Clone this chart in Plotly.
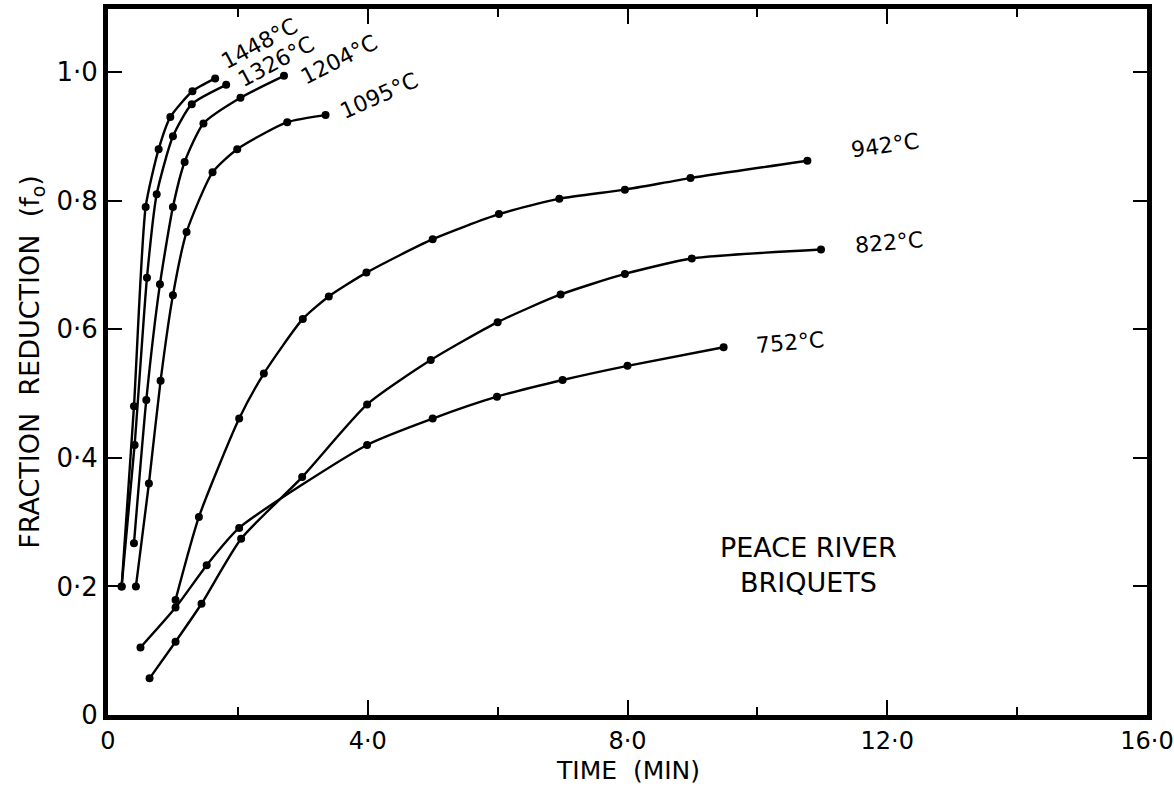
import plotly.graph_objects as go

# ---- data (time in min, fraction reduction) ----
t_1448 = [0.21, 0.40, 0.58, 0.78, 0.96, 1.30, 1.65]
f_1448 = [0.20, 0.48, 0.79, 0.88, 0.93, 0.97, 0.99]
t_1326 = [0.21, 0.41, 0.60, 0.75, 1.00, 1.29, 1.82]
f_1326 = [0.20, 0.42, 0.68, 0.81, 0.90, 0.95, 0.98]
t_1204 = [0.40, 0.59, 0.80, 1.00, 1.18, 1.47, 2.04, 2.71]
f_1204 = [0.267, 0.49, 0.67, 0.79, 0.86, 0.92, 0.96, 0.994]
t_1095 = [0.43, 0.63, 0.81, 1.00, 1.21, 1.61, 1.99, 2.76, 3.35]
f_1095 = [0.20, 0.36, 0.52, 0.653, 0.751, 0.844, 0.88, 0.922, 0.933]
t_942 = [1.04, 1.40, 2.02, 2.40, 3.00, 3.40, 3.98, 5.00, 6.02, 6.95, 7.96, 8.97, 10.77]
f_942 = [0.179, 0.308, 0.461, 0.531, 0.616, 0.651, 0.688, 0.740, 0.779, 0.803, 0.817, 0.835, 0.862]
t_822 = [0.64, 1.04, 1.44, 2.05, 2.99, 3.99, 4.97, 6.00, 6.97, 7.96, 8.99, 10.98]
f_822 = [0.057, 0.114, 0.173, 0.274, 0.370, 0.483, 0.552, 0.611, 0.654, 0.686, 0.710, 0.724]
t_752 = [0.50, 1.04, 1.52, 2.02, 3.99, 5.00, 5.99, 7.00, 8.00, 9.48]
f_752 = [0.105, 0.167, 0.233, 0.291, 0.420, 0.461, 0.495, 0.521, 0.543, 0.572]

series_names = ["1448°C", "1326°C", "1204°C", "1095°C", "942°C", "822°C", "752°C"]
series_t = [t_1448, t_1326, t_1204, t_1095, t_942, t_822, t_752]
series_f = [f_1448, f_1326, f_1204, f_1095, f_942, f_822, f_752]

# label anchor positions (data coords) and angles
label_x = [2.33, 2.59, 3.56, 4.18, 11.96, 12.02, 10.51]
label_y = [1.045, 1.016, 1.019, 0.963, 0.885, 0.735, 0.580]
label_angle = [-28, -28, -27, -24, -8, -5, -5]

x_tickvals = [0, 4, 8, 12, 16]
x_ticktext = ["0", "4·0", "8·0", "12·0", "16·0"]
y_tickvals = [0, 0.2, 0.4, 0.6, 0.8, 1.0]
y_ticktext = ["0", "0·2", "0·4", "0·6", "0·8", "1·0"]

x_title = "TIME  (MIN)"
y_title = "FRACTION  REDUCTION  (f<sub>o</sub>)"
note_text = "PEACE RIVER<br>BRIQUETS"

FONT = "DejaVu Sans"

fig = go.Figure()
for name, t, f in zip(series_names, series_t, series_f):
    fig.add_trace(go.Scatter(
        x=t, y=f, name=name, mode="lines+markers",
        line=dict(color="black", width=2.4, shape="spline", smoothing=0.6),
        marker=dict(color="black", size=8),
        showlegend=False,
    ))

for name, lx, ly, ang in zip(series_names, label_x, label_y, label_angle):
    fig.add_annotation(x=lx, y=ly, text=name, showarrow=False, textangle=ang,
                       font=dict(family=FONT, size=22, color="black"))

fig.add_annotation(x=10.79, y=0.233, text=note_text, showarrow=False,
                   font=dict(family=FONT, size=27, color="black"), align="center")

# x-axis title placed as paper annotation so it is not clipped
fig.add_annotation(x=0.5, y=-0.078, xref="paper", yref="paper", text=x_title,
                   showarrow=False, xanchor="center", yanchor="middle",
                   font=dict(family=FONT, size=25, color="black"))

fig.update_layout(
    width=1174, height=786,
    paper_bgcolor="white", plot_bgcolor="white",
    margin=dict(l=108, r=27, t=9, b=71),
    font=dict(family=FONT, color="black"),
    xaxis=dict(
        range=[0, 16], showgrid=False, zeroline=False, automargin=False,
        showline=True, linecolor="black", linewidth=5, mirror="ticks",
        ticks="inside", ticklen=15, tickwidth=2, tickcolor="black",
        tickvals=x_tickvals, ticktext=x_ticktext, ticklabeloverflow="allow",
        tickfont=dict(family=FONT, size=24, color="black"),
        minor=dict(dtick=2, ticks="inside", ticklen=8, tickwidth=2, tickcolor="black"),
    ),
    yaxis=dict(
        range=[0, 1.098], showgrid=False, zeroline=False, automargin=False,
        showline=True, linecolor="black", linewidth=5, mirror="ticks",
        ticks="inside", ticklen=14, tickwidth=2, tickcolor="black",
        tickvals=y_tickvals, ticktext=y_ticktext,
        tickfont=dict(family=FONT, size=26, color="black"),
        title=dict(text=y_title, font=dict(family=FONT, size=27, color="black"), standoff=10),
    ),
)

fig.write_html("out.html", config={"displayModeBar": False},
               post_script="document.body.style.margin='0px';")
